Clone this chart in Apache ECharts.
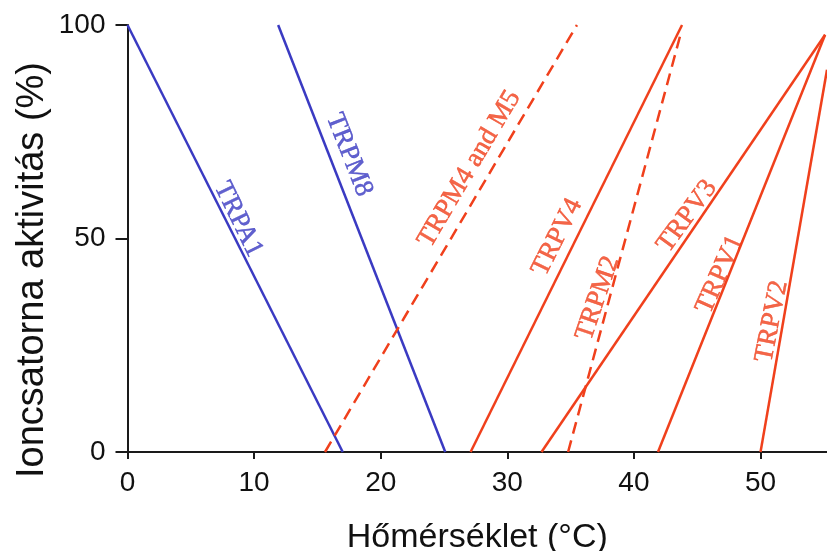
<!DOCTYPE html>
<html>
<head>
<meta charset="utf-8">
<script src="https://cdn.jsdelivr.net/npm/echarts@6/dist/echarts.min.js"></script>
<style>html,body{margin:0;padding:0;background:#fff}#c{width:827px;height:551px}</style>
</head>
<body>
<div id="c"></div>
<script>
// ---- data ----
const xTicks = [0, 10, 20, 30, 40, 50];
const yTicks = [0, 50, 100];
const xTitle = 'Hőmérséklet (°C)';
const yTitle = 'Ioncsatorna aktivitás (%)';

const names = ['TRPA1', 'TRPM8', 'TRPM4 and M5', 'TRPV4', 'TRPM2', 'TRPV3', 'TRPV1', 'TRPV2'];
const TRPA1 = [[0, 100], [17, 0]];
const TRPM8 = [[11.9, 100], [25.1, 0]];
const TRPM4M5 = [[15.6, 0], [35.5, 100]];
const TRPV4 = [[27.1, 0], [43.8, 100]];
const TRPM2 = [[34.8, 0], [43.7, 98]];
const TRPV3 = [[32.7, 0], [55.1, 97.7]];
const TRPV1 = [[41.9, 0], [55.1, 97.7]];
const TRPV2 = [[50.0, 0], [55.25, 89.5]];
const lineData = [TRPA1, TRPM8, TRPM4M5, TRPV4, TRPM2, TRPV3, TRPV1, TRPV2];
const dashed = [false, false, true, false, true, false, false, false];
const cold = [true, true, false, false, false, false, false, false];

// label anchor points (data coords) and angles
const labelPos = [[8.75, 54.5], [17.5, 69.6], [27.0, 66.3], [33.95, 50.3], [37.15, 36.0], [44.2, 55.2], [46.8, 41.6], [50.9, 30.6]];
const labelAngle = [-64, -68.5, 59.4, 63.6, 71, 54, 66, 79];

// ---- styles ----
const BLUE = '#3a3ac2';
const RED = '#f0401c';

const series = lineData.map((d, i) => ({
  type: 'line',
  name: names[i],
  data: d,
  symbol: 'none',
  lineStyle: { color: cold[i] ? BLUE : RED, width: 2.5, type: dashed[i] ? [12, 7] : 'solid' },
  z: 3
}));

series.push({
  type: 'scatter',
  data: labelPos.map((p, i) => ({
    value: p,
    label: {
      show: true,
      formatter: names[i],
      position: 'inside',
      rotate: labelAngle[i],
      color: cold[i] ? BLUE : RED,
      textBorderColor: cold[i] ? BLUE : RED,
      textBorderWidth: 0.5,
      fontFamily: 'Liberation Serif',
      fontSize: 27,
      align: 'center',
      verticalAlign: 'middle'
    }
  })),
  symbolSize: 1,
  itemStyle: { color: 'rgba(0,0,0,0)' },
  silent: true,
  z: 4
});

const chart = echarts.init(document.getElementById('c'), null, { renderer: 'canvas' });
chart.setOption({
  animation: false,
  backgroundColor: '#fff',
  grid: { left: 127.5, right: 0, top: 25, bottom: 99, containLabel: false, outerBoundsMode: 'none' },
  graphic: [{
    type: 'text',
    rotation: Math.PI / 2,
    x: 33, y: 270,
    style: {
      text: yTitle,
      fontFamily: 'Liberation Sans',
      fontSize: 38,
      fill: '#111',
      align: 'center',
      verticalAlign: 'middle'
    }
  }],
  xAxis: {
    type: 'value', min: 0, max: 55.25, interval: 10,
    name: xTitle, nameLocation: 'middle', nameGap: 69,
    nameTextStyle: { fontFamily: 'Liberation Sans', fontSize: 34, color: '#111' },
    axisLine: { show: true, onZero: false, lineStyle: { color: '#1a1a1a', width: 2 } },
    axisTick: { show: true, inside: false, length: 7, lineStyle: { color: '#1a1a1a', width: 2 }, customValues: xTicks },
    axisLabel: { fontFamily: 'Liberation Sans', fontSize: 28, color: '#111', margin: 17, customValues: xTicks },
    splitLine: { show: false }
  },
  yAxis: {
    type: 'value', min: 0, max: 100, interval: 50,
    axisLine: { show: true, onZero: false, lineStyle: { color: '#1a1a1a', width: 2 } },
    axisTick: { show: true, inside: false, length: 12, lineStyle: { color: '#1a1a1a', width: 2 }, customValues: yTicks },
    axisLabel: { fontFamily: 'Liberation Sans', fontSize: 28, color: '#111', margin: 22, customValues: yTicks },
    splitLine: { show: false }
  },
  series: series
});
</script>
</body>
</html>
